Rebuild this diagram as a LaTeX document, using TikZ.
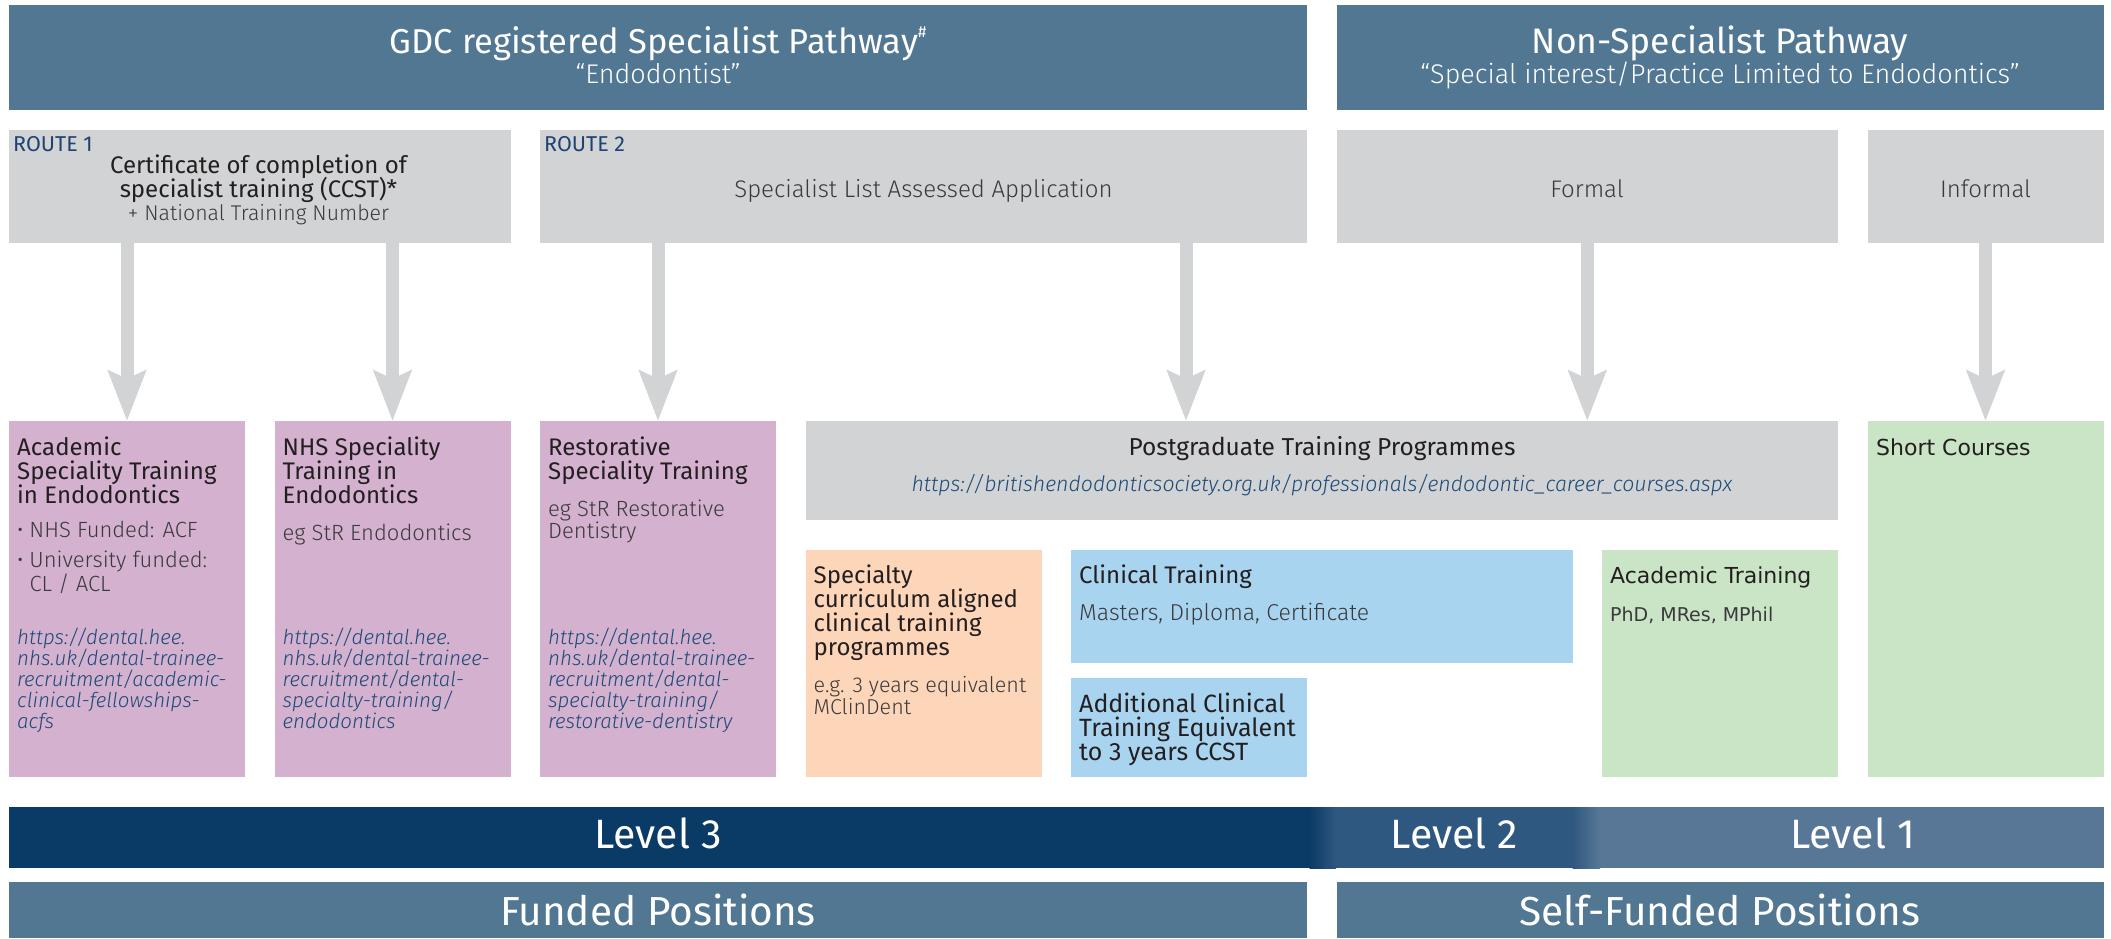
\documentclass[tikz,border=0pt]{standalone}
\usepackage{fontspec}
\usetikzlibrary{arrows.meta,calc}
\setmainfont{Fira Sans}
\IfFontExistsTF{Fira Sans Light}{\newfontfamily\lt{Fira Sans Light}}{\newfontfamily\lt{Fira Sans}}
\newfontfamily\dv{DejaVu Sans}
\newcommand\fs[2]{\fontsize{#1}{#2}\selectfont}
\definecolor{banner}{HTML}{517793}
\definecolor{grey}{HTML}{D1D3D4}
\definecolor{purp}{HTML}{D3B1CF}
\definecolor{orng}{HTML}{FDD5B8}
\definecolor{lblue}{HTML}{A9D4F0}
\definecolor{lgreen}{HTML}{CAE4C6}
\definecolor{lvA}{HTML}{0A3A66}
\definecolor{lvB}{HTML}{2F5880}
\definecolor{lvC}{HTML}{587797}
\definecolor{tx}{HTML}{231F20}
\definecolor{bd}{HTML}{3A3A3C}
\definecolor{url}{HTML}{1C4A78}
\definecolor{rte}{HTML}{1E4273}
\tikzset{
  box/.style={rectangle, inner sep=0pt, outer sep=0pt, draw=none, anchor=north west},
  hd/.style={anchor=base, inner sep=0pt, text=white, font={\fs{34.5}{38}}},
  sub/.style={anchor=base, inner sep=0pt, text=white, font={\lt\fs{27}{30}}},
  rt/.style={anchor=base west, inner sep=0pt, text=rte, font={\fs{21.5}{24}}},
  ttl/.style={anchor=base west, inner sep=0pt, align=left, text=tx, font={\fs{24}{24}}},
  ctl/.style={anchor=base, inner sep=0pt, align=center, text=tx, font={\fs{24}{24}}},
  bdy/.style={anchor=base west, inner sep=0pt, align=left, text=bd, font={\lt\fs{22}{21}}},
  cbd/.style={anchor=base, inner sep=0pt, align=center, text=bd, font={\lt\fs{24}{26}}},
  lnk/.style={anchor=base west, inner sep=0pt, align=left, text=url, font={\lt\itshape\fs{20.5}{21.2}}},
  dvt/.style={anchor=base west, inner sep=0pt, text=tx, font={\dv\fs{22}{24}}},
  dvb/.style={anchor=base west, inner sep=0pt, text=bd, font={\dv\fs{19}{21}}},
  lvl/.style={anchor=base, inner sep=0pt, text=white, font={\fs{41}{44}}},
  fundtxt/.style={anchor=base, inner sep=0pt, text=white, font={\fs{40.5}{44}}},
  bigarr/.style={draw=grey, line width=13pt, -{Stealth[length=50pt, width=37pt, inset=8pt]}},
}
\begin{document}
\begin{tikzpicture}[x=1pt,y=-1pt]
\useasboundingbox (0,0) rectangle (2111,938);
\fill[white] (0,0) rectangle (2111,938);
% top banners
\node[box, fill=banner, minimum width=1298pt, minimum height=105pt] (gdc) at (9,5) {};
\node[box, fill=banner, minimum width=767pt, minimum height=105pt] (nsp) at (1336.5,5) {};
\node[hd] (gdct) at (658,53) {GDC registered Specialist Pathway\raisebox{.45em}{\fs{16}{16}\#}};
\node[sub] (gdcs) at (658,83) {“Endodontist”};
\node[hd, font={\fs{35.5}{38}}] (nspt) at (1720,53) {Non-Specialist Pathway};
\node[sub] (nsps) at (1720,83) {“Special interest/Practice Limited to Endodontics”};
% second row
\node[box, fill=grey, minimum width=501.5pt, minimum height=113pt] (r1) at (9,130) {};
\node[box, fill=grey, minimum width=767pt, minimum height=113pt] (r2) at (540,130) {};
\node[box, fill=grey, minimum width=501.5pt, minimum height=113pt] (fm) at (1336.5,130) {};
\node[box, fill=grey, minimum width=236pt, minimum height=113pt] (inf) at (1867.5,130) {};
\node[rt] (r1l) at (13,151) {ROUTE 1};
\node[rt] (r2l) at (544,151) {ROUTE 2};
\node[ctl] (r1a) at (258.5,173) {Certificate of completion of};
\node[ctl] (r1b) at (258.5,197) {specialist training (CCST)*};
\node[cbd, font={\lt\fs{21.3}{22}}] (r1c) at (258.5,220.5) {+ National Training Number};
\node[cbd] (r2t) at (923.5,197) {Specialist List Assessed Application};
\node[cbd] (fmt) at (1587,197) {Formal};
\node[cbd] (inft) at (1985.5,197) {Informal};
% third row boxes
\node[box, fill=purp, minimum width=236pt, minimum height=356pt] (p1) at (9,421) {};
\node[box, fill=purp, minimum width=236pt, minimum height=356pt] (p2) at (274.5,421) {};
\node[box, fill=purp, minimum width=236pt, minimum height=356pt] (p3) at (540,421) {};
\node[box, fill=grey, minimum width=1032.5pt, minimum height=99pt] (pg) at (805.5,421) {};
\node[box, fill=orng, minimum width=236pt, minimum height=227pt] (or) at (805.5,550) {};
\node[box, fill=lblue, minimum width=501.5pt, minimum height=113pt] (cl) at (1071,550) {};
\node[box, fill=lblue, minimum width=236pt, minimum height=99pt] (ad) at (1071,678) {};
\node[box, fill=lgreen, minimum width=236pt, minimum height=227pt] (ac) at (1602,550) {};
\node[box, fill=lgreen, minimum width=236pt, minimum height=356pt] (sc) at (1867.5,421) {};
% arrows
\coordinate (a4) at (1186,0);
\draw[bigarr] (r1.south -| p1.north) -- (p1.north);
\draw[bigarr] (r1.south -| p2.north) -- (p2.north);
\draw[bigarr] (r2.south -| p3.north) -- (p3.north);
\draw[bigarr] (r2.south -| a4) -- (pg.north -| a4);
\draw[bigarr] (fm.south) -- (pg.north -| fm.south);
\draw[bigarr] (inf.south) -- (sc.north);
% purple box texts (base anchor = last line)
\node[ttl] (p1t) at (17,503.5) {Academic\\Speciality Training\\in Endodontics};
\node[bdy] (p1b) at (17,591) {•\hspace{6pt}NHS Funded: ACF\\[9pt]•\hspace{6pt}University funded:\\\phantom{•\hspace{6pt}}CL / ACL};
\node[lnk] (p1u) at (17,728.8) {https://dental.hee.\\nhs.uk/dental-trainee-\\recruitment/academic-\\clinical-fellowships-\\acfs};
\node[ttl] (p2t) at (282.5,503.5) {NHS Speciality\\Training in\\Endodontics};
\node[bdy] (p2b) at (282.5,540) {eg StR Endodontics};
\node[lnk] (p2u) at (282.5,728.8) {https://dental.hee.\\nhs.uk/dental-trainee-\\recruitment/dental-\\specialty-training/\\endodontics};
\node[ttl] (p3t) at (548,479.5) {Restorative\\Speciality Training};
\node[bdy, font={\lt\fs{22}{22}}] (p3b) at (548,538) {eg StR Restorative\\Dentistry};
\node[lnk] (p3u) at (548,728.8) {https://dental.hee.\\nhs.uk/dental-trainee-\\recruitment/dental-\\specialty-training/\\restorative-dentistry};
% postgraduate
\node[ctl, font={\fs{24.5}{26}}] (pgt) at (1322,455.5) {Postgraduate Training Programmes};
\node[lnk, anchor=base, font={\lt\itshape\fs{21.3}{24}}] (pgu) at (1322,491) {https://britishendodonticsociety.org.uk/professionals/endodontic\_career\_courses.aspx};
% orange
\node[ttl] (ort) at (813.5,655) {Specialty\\curriculum aligned\\clinical training\\programmes};
\node[bdy, font={\lt\fs{21.5}{20}}] (orb) at (813.5,714) {e.g. 3 years equivalent\\MClinDent};
% clinical
\node[ttl] (clt) at (1079,583) {Clinical Training};
\node[bdy, font={\lt\fs{23}{21}}] (clb) at (1079,620) {Masters, Diploma, Certificate};
\node[ttl, font={\fs{25}{24}}] (adt) at (1079,760) {Additional Clinical\\Training Equivalent\\to 3 years CCST};
% green
\node[dvt] (act) at (1610,583) {Academic Training};
\node[dvb] (acb) at (1610,621) {PhD, MRes, MPhil};
\node[dvt] (sct) at (1876,455.5) {Short Courses};
% level bar
\fill[lvA] (9,807) rectangle (1310,868);
\shade[left color=lvA, right color=lvB] (1309.5,807) rectangle (1336,868);
\fill[lvB] (1335.5,807) rectangle (1573,868);
\shade[left color=lvB, right color=lvC] (1572.5,807) rectangle (1600,868);
\fill[lvC] (1599.5,807) rectangle (2103.5,868);
\node[lvl] (l3) at (658,848) {Level 3};
\node[lvl] (l2) at (1454.5,848) {Level 2};
\node[lvl] (l1) at (1852.5,848) {Level 1};
% bottom bars
\node[box, fill=banner, minimum width=1298pt, minimum height=56pt] (fd) at (9,882) {};
\node[box, fill=banner, minimum width=767pt, minimum height=56pt] (sf) at (1336.5,882) {};
\node[fundtxt] (fdt) at (658,925) {Funded Positions};
\node[fundtxt] (sft) at (1720,925) {Self-Funded Positions};
\end{tikzpicture}
\end{document}
